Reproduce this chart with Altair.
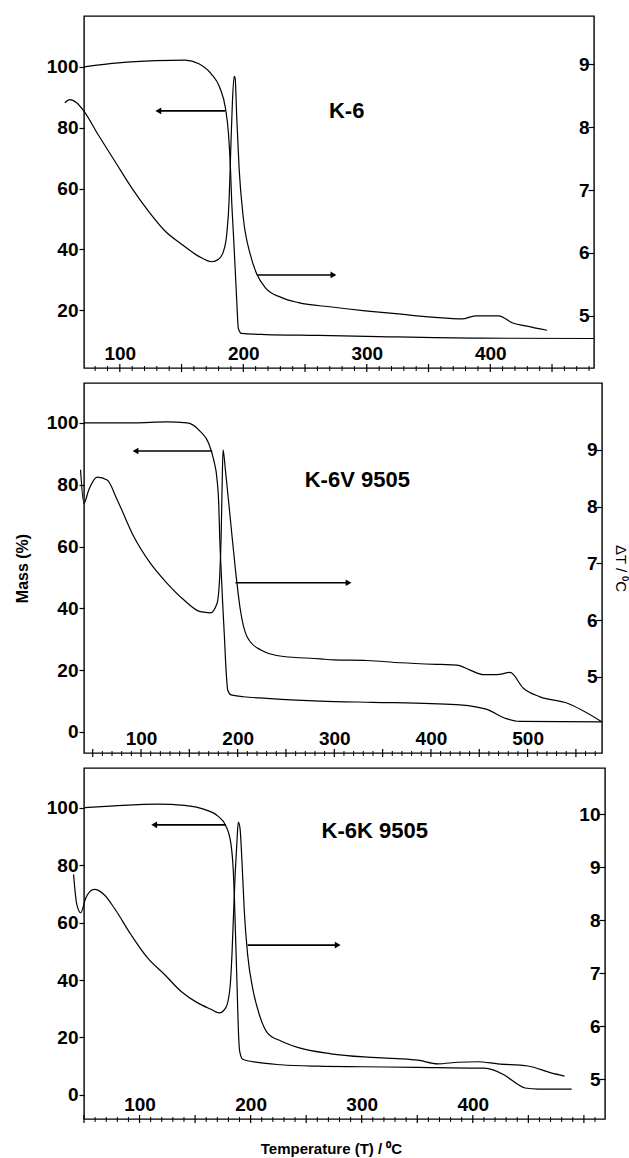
import altair as alt
import pandas as pd

FONT = "Liberation Sans"

# ---------------- Panel 1 : K-6 ----------------
k6_tg_T = [71, 99, 129, 153, 164, 174, 181, 185.5, 188, 189.6, 190.6, 192, 193.4, 194.7, 196, 198.5, 218, 261, 300, 391, 484]
k6_tg_M = [100, 101.3, 102, 102.2, 101, 97.7, 93.1, 86.5, 78, 66.8, 55.9, 45, 33.8, 23, 14, 12.4, 12.0, 11.7, 11.4, 10.8, 10.7]
k6_dta_T = [55.5, 59.6, 65, 71.2, 82.5, 96, 109.5, 123, 136.6, 150, 163.6, 174.4, 180, 184, 186.6, 188.5, 189.8, 191.2,
            192.6, 193.4, 194.7, 196.6, 200, 205.6, 211, 217.7, 231, 244.7, 271.7, 298.8, 325.8, 352.8, 377.2, 388,
            407, 417.7, 428.6, 446]
k6_dta_D = [8.39, 8.44, 8.39, 8.25, 7.88, 7.46, 7.04, 6.67, 6.35, 6.14, 5.95, 5.86, 5.90, 6.03, 6.30, 6.83, 7.62, 8.41,
            8.81, 8.78, 8.15, 7.35, 6.56, 5.98, 5.66, 5.45, 5.29, 5.21, 5.14, 5.08, 5.03, 4.98, 4.95, 5.0,
            5.0, 4.89, 4.84, 4.77]

# ---------------- Panel 2 : K-6V 9505 ----------------
k6v_tg_T = [40.9, 92.6, 127, 147.8, 161.5, 170, 175.2, 178.7, 180.4, 181.4, 182.9, 184.5, 186.3, 188, 189.7, 193.2,
            206, 230, 285, 340, 400, 430, 458, 478, 492, 577]
k6v_tg_M = [100, 100, 100.3, 100, 97.2, 93.4, 88, 81.6, 74, 63.2, 52.4, 41.6, 30.8, 20, 13.6, 12,
            11.4, 10.9, 10.0, 9.6, 9.2, 8.8, 7.3, 4.3, 3.4, 3.3]
k6v_dta_T = [37.4, 40.9, 46, 54.7, 65, 75.4, 92.6, 109.8, 127, 144.2, 161.5, 171.8, 178.7, 181.4, 182.9, 183.9, 184.9,
             187.3, 192.5, 197.7, 202.8, 209.7, 223.5, 247.6, 285.5, 299.3, 333.8, 368.2, 409.6, 426.8, 440.6,
             454.3, 468.2, 481.9, 495.7, 512.9, 540.5, 576.7]
k6v_dta_D = [8.65, 8.06, 8.30, 8.52, 8.47, 8.12, 7.47, 7.0, 6.65, 6.36, 6.15, 6.13, 6.30, 6.77, 7.47, 8.35, 9.0,
             8.65, 7.77, 6.89, 6.18, 5.71, 5.48, 5.36, 5.32, 5.30, 5.29, 5.25, 5.22, 5.21, 5.12,
             5.04, 5.04, 5.08, 4.80, 4.65, 4.54, 4.21]

# ---------------- Panel 3 : K-6K 9505 ----------------
k6k_tg_T = [50.7, 77.2, 116.2, 140.3, 158.3, 170.3, 177.7, 182.3, 184.4, 185.3, 186.2, 187.1, 188, 188.9, 190.1, 192.8,
            206.3, 227.3, 260.4, 300, 350, 410, 428, 440, 447, 459, 489]
k6k_tg_M = [100.1, 100.7, 101.3, 100.9, 99.5, 97.2, 93.7, 87.4, 78, 69.9, 58.3, 46.7, 35.1, 23.4, 15.3, 12.4,
            11.3, 10.5, 10.0, 9.8, 9.6, 9.3, 7.0, 3.8, 2.4, 2.0, 2.0]
k6k_dta_T = [40.6, 43.5, 47.1, 51.6, 59.2, 68.2, 77.2, 92.2, 107.2, 122.3, 137.2, 152.3, 164.2, 171.8, 177.7, 181.4,
             183.2, 184.7, 186.2, 187.7, 188.9, 190.4, 192.2, 194.3, 197.3, 201.8, 207.8, 215.3, 227.3, 242.3,
             272.3, 302.4, 332.4, 350.5, 368.5, 386.5, 404.5, 422.5, 449.5, 470.5, 482.6]
k6k_dta_D = [8.86, 8.30, 8.14, 8.42, 8.58, 8.48, 8.23, 7.73, 7.29, 6.98, 6.66, 6.44, 6.32, 6.25, 6.35, 6.72,
             7.35, 8.17, 8.92, 9.49, 9.85, 9.74, 9.11, 8.17, 7.35, 6.72, 6.22, 5.87, 5.72, 5.60,
             5.48, 5.42, 5.39, 5.36, 5.29, 5.32, 5.33, 5.29, 5.25, 5.12, 5.06]

# ---------------- axes / annotations ----------------
panel_names = ["K-6", "K-6V 9505", "K-6K 9505"]
x_domains = [[71, 484], [41, 577], [50, 519]]
mass_domains = [[1, 116.7], [-6.8, 112.9], [-8.4, 113.9]]
dt_domains = [[4.17, 9.77], [3.66, 10.18], [4.25, 10.87]]
x_labels = [[100, 200, 300, 400], [100, 200, 300, 400, 500], [100, 200, 300, 400]]
mass_labels = [[20, 40, 60, 80, 100], [0, 20, 40, 60, 80, 100], [0, 20, 40, 60, 80, 100]]
dt_labels = [[5, 6, 7, 8, 9], [5, 6, 7, 8, 9], [5, 6, 7, 8, 9, 10]]
# arrows: [T at curve, T at head, level]
left_arrows = [[185.3, 131.2, 85.5], [173.6, 94.3, 90.9], [177.8, 113.2, 94.1]]
right_arrows = [[211, 273, 5.65], [197.7, 314.8, 6.66], [197.3, 278.4, 7.53]]
name_pos = [[283.7, 85.5], [323.8, 81.6], [311.7, 92]]

widths = [510, 518, 521]
heights = [352, 370, 351]

tg_T = [k6_tg_T, k6v_tg_T, k6k_tg_T]
tg_M = [k6_tg_M, k6v_tg_M, k6k_tg_M]
dta_T = [k6_dta_T, k6v_dta_T, k6k_dta_T]
dta_D = [k6_dta_D, k6v_dta_D, k6k_dta_D]

LBL = dict(labelFont=FONT, labelFontSize=19, labelFontWeight="bold", labelColor="black")


def make_panel(k):
    w, h = widths[k], heights[k]
    xs = alt.Scale(domain=x_domains[k], nice=False, zero=False)
    ms = alt.Scale(domain=mass_domains[k], nice=False, zero=False)
    ds = alt.Scale(domain=dt_domains[k], nice=False, zero=False)

    x_axis_kw = dict(values=x_labels[k], orient="bottom", domain=False, ticks=False, grid=False,
                     labelPadding=-9, labelBaseline="alphabetic", labelFlush=False, labelOverlap=False, **LBL)
    if k == 2:
        x_axis = alt.Axis(title="Temperature (T) / \u2070C", titleFont=FONT, titleFontSize=15,
                          titleFontWeight="bold", titleColor="black", titlePadding=22, titleX=247,
                          **x_axis_kw)
    else:
        x_axis = alt.Axis(title=None, **x_axis_kw)

    m_axis = alt.Axis(values=mass_labels[k], orient="left", domain=False, grid=False, tickSize=5,
                      tickColor="black", tickWidth=1.2, labelPadding=1, title="Mass (%)", titleFont=FONT,
                      titleFontSize=16, titleFontWeight="bold", titleColor="black",
                      titleOpacity=1 if k == 1 else 0, titlePadding=16, **LBL)
    d_kw = dict(values=dt_labels[k], orient="right", domain=False, grid=False, offset=-6, tickSize=6,
                tickColor="black", tickWidth=1.2, labelAlign="right", labelPadding=-5, **LBL)
    if k == 1:
        d_axis = alt.Axis(title="\u0394T / \u2070C", titleFont=FONT, titleFontSize=15, titleFontWeight="normal",
                          titleColor="black", titlePadding=10, **d_kw)
    else:
        d_axis = alt.Axis(title=None, **d_kw)

    X = lambda f: alt.X(f"{f}:Q", scale=xs, axis=x_axis)
    YM = alt.Y("M:Q", scale=ms, axis=m_axis)
    YD = alt.Y("D:Q", scale=ds, axis=d_axis)

    tg = pd.DataFrame({"T": tg_T[k], "M": tg_M[k], "i": list(range(len(tg_T[k])))})
    dt = pd.DataFrame({"T": dta_T[k], "D": dta_D[k], "i": list(range(len(dta_T[k])))})
    la = pd.DataFrame({"T": [left_arrows[k][0]], "T2": [left_arrows[k][1]], "M": [left_arrows[k][2]]})
    ra = pd.DataFrame({"T": [right_arrows[k][0]], "T2": [right_arrows[k][1]], "D": [right_arrows[k][2]]})
    nm = pd.DataFrame({"T": [name_pos[k][0]], "M": [name_pos[k][1]], "name": [panel_names[k]]})
    lo, hi = x_domains[k]
    minor = pd.DataFrame({"T": [t for t in range(0, 700, 10) if lo <= t <= hi and t % 50 != 0]})
    major = pd.DataFrame({"T": [t for t in range(0, 700, 50) if lo <= t <= hi]})

    tg_line = alt.Chart(tg).mark_line(color="black", strokeWidth=1.2, interpolate="monotone").encode(
        x=X("T"), y=YM, order="i:Q")
    la_rule = alt.Chart(la).mark_rule(color="black", strokeWidth=1.6).encode(x=X("T"), x2="T2:Q", y=YM)
    la_head = alt.Chart(la).mark_point(shape="triangle-left", filled=True, color="black", size=45,
                                       opacity=1).encode(x=alt.X("T2:Q", scale=xs, axis=x_axis), y=YM)
    name_t = alt.Chart(nm).mark_text(font=FONT, fontSize=22, fontWeight="bold", color="black").encode(
        x=X("T"), y=YM, text="name:N")
    minor_t = alt.Chart(minor).mark_rule(color="black", strokeWidth=1).encode(
        x=X("T"), y=alt.value(h - 2), y2=alt.value(h + 3))
    major_t = alt.Chart(major).mark_rule(color="black", strokeWidth=1.2).encode(
        x=X("T"), y=alt.value(h - 4), y2=alt.value(h + 4))
    group_m = alt.layer(tg_line, la_rule, la_head, name_t, minor_t, major_t)

    dt_line = alt.Chart(dt).mark_line(color="black", strokeWidth=1.2, interpolate="monotone").encode(
        x=X("T"), y=YD, order="i:Q")
    ra_rule = alt.Chart(ra).mark_rule(color="black", strokeWidth=1.6).encode(x=X("T"), x2="T2:Q", y=YD)
    ra_head = alt.Chart(ra).mark_point(shape="triangle-right", filled=True, color="black", size=45,
                                       opacity=1).encode(x=alt.X("T2:Q", scale=xs, axis=x_axis), y=YD)
    group_d = alt.layer(dt_line, ra_rule, ra_head)

    return alt.layer(group_m, group_d).resolve_scale(y="independent").properties(
        width=w, height=h, view=alt.ViewBackground(stroke="black", strokeWidth=1.4, fill="white"))


chart = alt.vconcat(make_panel(0), make_panel(1), make_panel(2), spacing=8).properties(
    padding={"left": 13, "top": 15, "right": 0, "bottom": 0}
).configure_view(stroke="black", strokeWidth=1.4).configure(font=FONT, background="white")

chart.save("out.html", embed_options={"renderer": "svg", "actions": False})
